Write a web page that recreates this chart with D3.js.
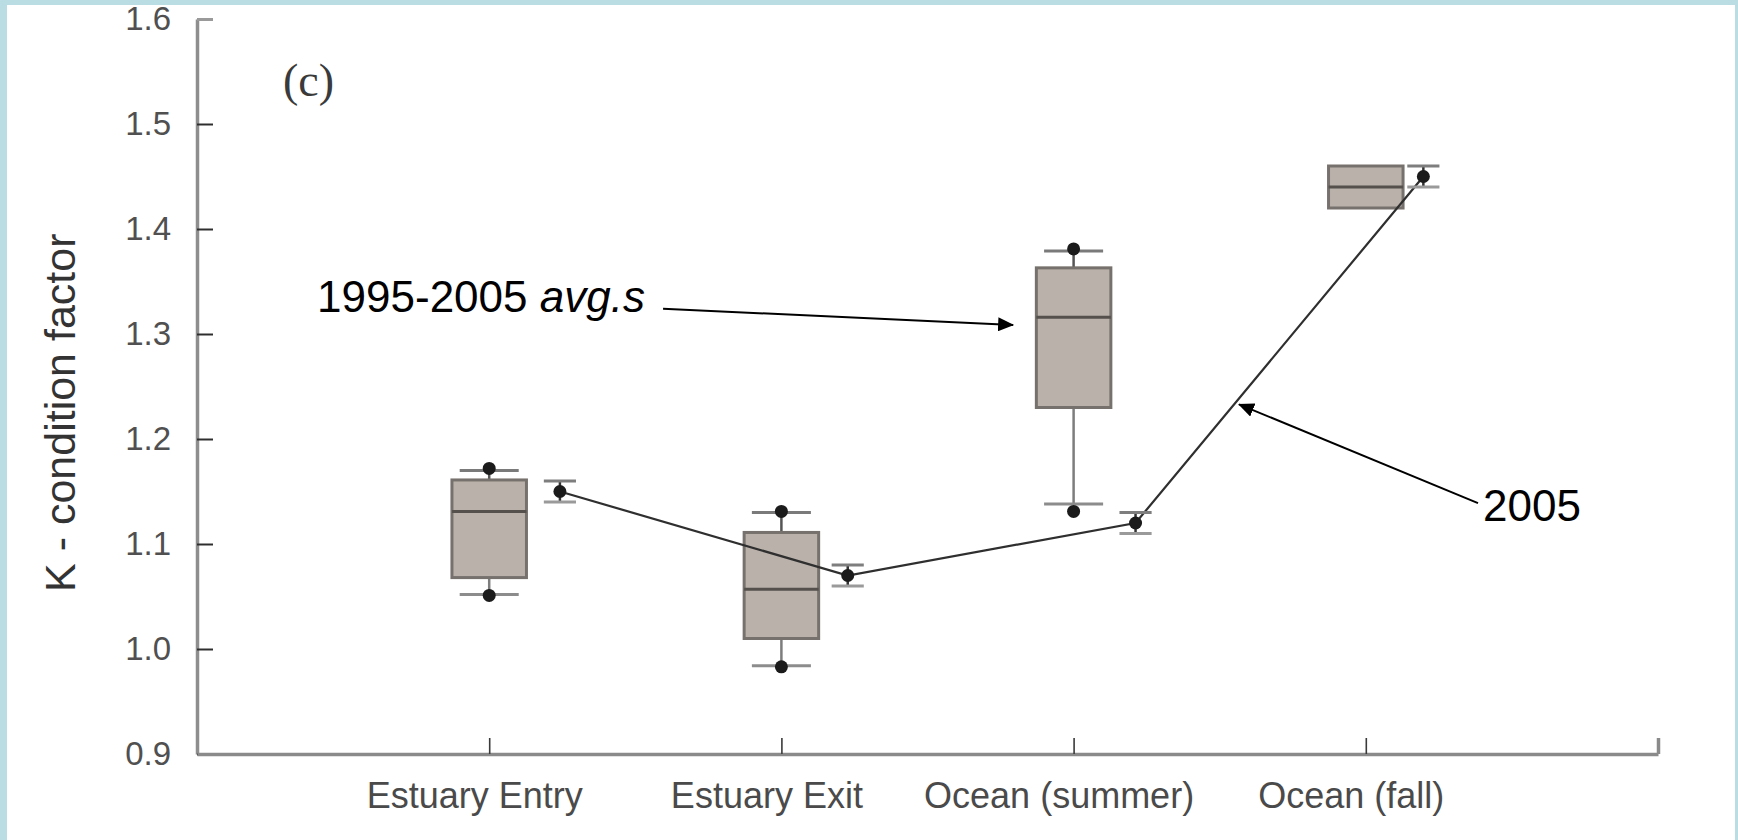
<!DOCTYPE html>
<html>
<head>
<meta charset="utf-8">
<script src="https://cdn.jsdelivr.net/npm/d3@7"></script>
<style>
  html, body { margin: 0; padding: 0; background: #ffffff; }
  svg { display: block; }
</style>
</head>
<body>
<svg id="chart" width="1738" height="840"></svg>
<script>
// Sampling sites along the migration route
const categories = ["Estuary Entry", "Estuary Exit", "Ocean (summer)", "Ocean (fall)"];

// 1995-2005 averages: box-plot statistics per site
const boxQ1       = [1.068, 1.010, 1.230, 1.420];
const boxMedian   = [1.131, 1.057, 1.316, 1.440];
const boxQ3       = [1.161, 1.111, 1.363, 1.460];
const whiskerLow  = [1.052, 0.984, 1.138, 1.420];
const whiskerHigh = [1.170, 1.130, 1.379, 1.460];
const extremeLow  = [1.051, 0.983, 1.131, null];
const extremeHigh = [1.172, 1.131, 1.381, null];

// 2005 mean condition factor with error
const mean2005 = [1.15, 1.07, 1.12, 1.45];
const err2005  = [0.01, 0.01, 0.01, 0.01];

// Axis ticks
const yTicks = [0.9, 1.0, 1.1, 1.2, 1.3, 1.4, 1.5, 1.6];
const xTicks = [1, 2, 3, 4, 5];

const W = 1738, H = 840;
const svg = d3.select("#chart");

// page frame
svg.append("rect").attr("width", W).attr("height", H).attr("fill", "#b9dde2");
svg.append("rect").attr("x", 7).attr("y", 5).attr("width", W - 10).attr("height", H - 5).attr("fill", "#ffffff");

const x = d3.scaleLinear().domain([0, 5]).range([197, 1658]);
const y = d3.scaleLinear().domain([0.9, 1.6]).range([754, 19]);
// 2005 points sit just right of each site
const x2005 = d3.scaleLinear().domain([1, 4]).range([x(1.242), x(4.197)]);

const boxW = x(0.255) - x(0);
const capW = x(0.202) - x(0);
const errCapW = x(0.11) - x(0);

// ---- y axis ----
const yAxis = d3.axisLeft(y)
  .tickValues(yTicks)
  .tickFormat(d3.format(".1f"))
  .tickSizeInner(-16)
  .tickSizeOuter(0)
  .tickPadding(26);
const gy = svg.append("g").attr("transform", `translate(${x(0)},0)`).call(yAxis);
gy.select(".domain").attr("stroke", "#8e8e8e").attr("stroke-width", 3.5);
gy.selectAll(".tick line").attr("stroke", "#2e2e2e").attr("stroke-width", 2);
gy.selectAll(".tick").filter(d => d === 1.6).select("line").attr("stroke", "#9a9a9a").attr("stroke-width", 3);
gy.selectAll(".tick text")
  .attr("font-family", "'Liberation Sans', Arial, sans-serif")
  .attr("font-size", 33)
  .attr("fill", "#505050");

// ---- x axis ----
const xAxis = d3.axisBottom(x)
  .tickValues(xTicks)
  .tickFormat(d => categories[d - 1] || "")
  .tickSizeInner(-16)
  .tickSizeOuter(0)
  .tickPadding(28);
const gx = svg.append("g").attr("transform", `translate(0,${y(0.9)})`).call(xAxis);
gx.select(".domain").attr("stroke", "#8a8a8a").attr("stroke-width", 3.5);
gx.selectAll(".tick line").attr("stroke", "#3a3a3a").attr("stroke-width", 1.6);
gx.selectAll(".tick").filter(d => d === 5).select("line").attr("stroke", "#8a8a8a").attr("stroke-width", 3.5);
gx.selectAll(".tick text")
  .attr("font-family", "'Liberation Sans', Arial, sans-serif")
  .attr("font-size", 36)
  .attr("dx", -15)
  .attr("fill", "#4a4a4a");

// ---- axis title ----
svg.append("text")
  .attr("transform", `translate(75,${y(1.225)}) rotate(-90)`)
  .attr("text-anchor", "middle")
  .attr("font-family", "'Liberation Sans', Arial, sans-serif")
  .attr("font-size", 43)
  .attr("fill", "#333333")
  .text("K - condition factor");

// panel tag
svg.append("text")
  .attr("x", x(0.294)).attr("y", y(1.527))
  .attr("font-family", "'Liberation Serif', 'Times New Roman', serif")
  .attr("font-size", 46)
  .attr("fill", "#3a3a3a")
  .text("(c)");

// ---- box plots (1995-2005 averages) ----
const boxes = categories.map((c, i) => ({
  pos: i + 1,
  q1: boxQ1[i], med: boxMedian[i], q3: boxQ3[i],
  lo: whiskerLow[i], hi: whiskerHigh[i],
  min: extremeLow[i], max: extremeHigh[i]
}));

const gb = svg.append("g");
const bx = gb.selectAll("g.box").data(boxes).join("g").attr("class", "box");

// whiskers
bx.append("line")
  .attr("x1", d => x(d.pos)).attr("x2", d => x(d.pos))
  .attr("y1", d => y(d.q3)).attr("y2", d => y(d.hi))
  .attr("stroke", "#555555").attr("stroke-width", 2.5);
bx.append("line")
  .attr("x1", d => x(d.pos)).attr("x2", d => x(d.pos))
  .attr("y1", d => y(d.q1)).attr("y2", d => y(d.lo))
  .attr("stroke", "#7d7d7d").attr("stroke-width", 2.5);
// whisker caps
bx.filter(d => d.hi > d.q3).append("line")
  .attr("x1", d => x(d.pos) - capW / 2).attr("x2", d => x(d.pos) + capW / 2)
  .attr("y1", d => y(d.hi)).attr("y2", d => y(d.hi))
  .attr("stroke", "#7a7a7a").attr("stroke-width", 3);
bx.filter(d => d.lo < d.q1).append("line")
  .attr("x1", d => x(d.pos) - capW / 2).attr("x2", d => x(d.pos) + capW / 2)
  .attr("y1", d => y(d.lo)).attr("y2", d => y(d.lo))
  .attr("stroke", "#8c8c8c").attr("stroke-width", 3);
// box body
bx.append("rect")
  .attr("x", d => x(d.pos) - boxW / 2)
  .attr("y", d => y(d.q3))
  .attr("width", boxW)
  .attr("height", d => y(d.q1) - y(d.q3))
  .attr("fill", "#b9b1aa")
  .attr("stroke", "#76716c")
  .attr("stroke-width", 3);
// median
bx.append("line")
  .attr("x1", d => x(d.pos) - boxW / 2).attr("x2", d => x(d.pos) + boxW / 2)
  .attr("y1", d => y(d.med)).attr("y2", d => y(d.med))
  .attr("stroke", "#55504c").attr("stroke-width", 3);
// extreme values
bx.filter(d => d.max != null).append("circle")
  .attr("cx", d => x(d.pos)).attr("cy", d => y(d.max)).attr("r", 6.5)
  .attr("fill", "#1b1b1b");
bx.filter(d => d.min != null).append("circle")
  .attr("cx", d => x(d.pos)).attr("cy", d => y(d.min)).attr("r", 6.5)
  .attr("fill", "#1b1b1b");

// ---- 2005 series ----
const pts = mean2005.map((v, i) => ({ pos: i + 1, v, e: err2005[i] }));
const g5 = svg.append("g");

g5.append("path")
  .datum(pts)
  .attr("fill", "none")
  .attr("stroke", "#2f2f2f")
  .attr("stroke-width", 2.2)
  .attr("d", d3.line().x(d => x2005(d.pos)).y(d => y(d.v)));

const ep = g5.selectAll("g.err").data(pts).join("g").attr("class", "err");
ep.append("line")
  .attr("x1", d => x2005(d.pos)).attr("x2", d => x2005(d.pos))
  .attr("y1", d => y(d.v + d.e)).attr("y2", d => y(d.v - d.e))
  .attr("stroke", "#333333").attr("stroke-width", 2.5);
ep.append("line")
  .attr("x1", d => x2005(d.pos) - errCapW / 2).attr("x2", d => x2005(d.pos) + errCapW / 2)
  .attr("y1", d => y(d.v + d.e)).attr("y2", d => y(d.v + d.e))
  .attr("stroke", "#7e7e7e").attr("stroke-width", 3);
ep.append("line")
  .attr("x1", d => x2005(d.pos) - errCapW / 2).attr("x2", d => x2005(d.pos) + errCapW / 2)
  .attr("y1", d => y(d.v - d.e)).attr("y2", d => y(d.v - d.e))
  .attr("stroke", "#9a9a9a").attr("stroke-width", 3);
ep.append("circle")
  .attr("cx", d => x2005(d.pos)).attr("cy", d => y(d.v)).attr("r", 6.5)
  .attr("fill", "#1b1b1b");

// ---- annotations ----
const defs = svg.append("defs");
defs.append("marker")
  .attr("id", "arrowHead")
  .attr("viewBox", "0 0 16 14")
  .attr("refX", 15).attr("refY", 7)
  .attr("markerWidth", 16).attr("markerHeight", 14)
  .attr("markerUnits", "userSpaceOnUse")
  .attr("orient", "auto")
  .append("path")
  .attr("d", "M0,0 L16,7 L0,14 Z")
  .attr("fill", "#000000");

const arrows = [
  { x1: 1.595, y1: 1.324, x2: 2.793, y2: 1.3086 },
  { x1: 4.384, y1: 1.139, x2: 3.566, y2: 1.233 }
];
svg.selectAll("line.arrow").data(arrows).join("line")
  .attr("class", "arrow")
  .attr("x1", d => x(d.x1)).attr("y1", d => y(d.y1))
  .attr("x2", d => x(d.x2)).attr("y2", d => y(d.y2))
  .attr("stroke", "#000000").attr("stroke-width", 2)
  .attr("marker-end", "url(#arrowHead)");

const noteFont = "'Liberation Sans', 'DejaVu Sans', sans-serif";
const note1 = svg.append("text")
  .attr("x", x(0.411)).attr("y", y(1.321))
  .attr("font-family", noteFont)
  .attr("font-size", 44)
  .attr("fill", "#000000");
note1.append("tspan").text("1995-2005 ");
note1.append("tspan").attr("font-style", "italic").text("avg.s");

svg.append("text")
  .attr("x", x(4.401)).attr("y", y(1.122))
  .attr("font-family", noteFont)
  .attr("font-size", 44)
  .attr("fill", "#000000")
  .text("2005");
</script>
</body>
</html>
